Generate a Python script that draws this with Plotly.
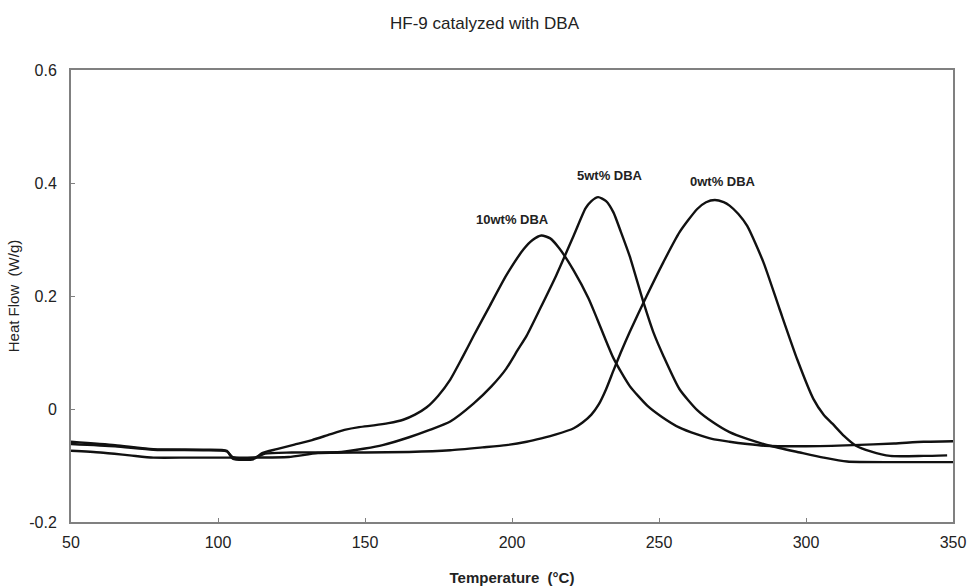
import plotly.graph_objects as go

# 10wt% DBA
t10 = [50, 65, 78, 95, 103, 105, 112, 115, 120, 126, 132, 138, 143, 148, 153, 158, 163, 167, 171, 175, 179,
       183, 187, 192.5, 198, 204, 207, 210, 213, 216, 221, 226, 229, 234.5, 240, 246, 251, 257, 263, 268,
       274, 280, 286, 300, 316, 330, 340, 350]
h10 = [-0.058, -0.064, -0.071, -0.072, -0.074, -0.088, -0.089, -0.078, -0.071, -0.063, -0.055, -0.045, -0.037,
       -0.032, -0.029, -0.025, -0.019, -0.010, 0.003, 0.024, 0.052, 0.090, 0.130, 0.183, 0.236, 0.283, 0.299,
       0.307, 0.302, 0.285, 0.245, 0.196, 0.159, 0.090, 0.041, 0.006, -0.014, -0.033, -0.045, -0.053, -0.058,
       -0.062, -0.065, -0.066, -0.064, -0.061, -0.058, -0.057]

# 5wt% DBA
t5 = [50, 65, 78, 95, 103, 105, 112, 116, 125, 142, 150, 156, 165, 172, 179, 187, 193, 198, 202, 205, 209.5,
      215, 221, 225, 227, 229.3, 232, 234.5, 237, 240, 244.7, 248, 251.5, 257, 263, 268.5, 274, 280, 287.7,
      298, 306, 314, 330, 350]
h5 = [-0.062, -0.066, -0.072, -0.073, -0.075, -0.085, -0.087, -0.079, -0.077, -0.076, -0.070, -0.064, -0.050,
      -0.037, -0.022, 0.010, 0.040, 0.071, 0.105, 0.130, 0.177, 0.236, 0.307, 0.355, 0.368, 0.375, 0.368,
      0.348, 0.314, 0.271, 0.189, 0.137, 0.094, 0.035, -0.002, -0.024, -0.041, -0.053, -0.065, -0.077,
      -0.086, -0.093, -0.094, -0.094]

# 0wt% DBA
t0 = [50, 60, 70, 78, 90, 100, 110, 124, 134, 150, 165, 179, 190, 198, 205, 210, 215, 221, 224, 227, 229.5,
      232, 234.5, 237, 240, 245.8, 251.5, 257, 263, 266, 269, 272, 274, 277, 280, 285.5, 291, 297, 302.5,
      306, 309, 313, 317, 322, 328.6, 340, 348]
h0 = [-0.074, -0.077, -0.082, -0.086, -0.086, -0.086, -0.086, -0.085, -0.078, -0.077, -0.076, -0.073, -0.068,
      -0.064, -0.058, -0.052, -0.045, -0.034, -0.024, -0.010, 0.008, 0.035, 0.068, 0.100, 0.136, 0.200, 0.260,
      0.313, 0.354, 0.366, 0.370, 0.366, 0.360, 0.345, 0.324, 0.260, 0.177, 0.088, 0.018, -0.010, -0.026,
      -0.048, -0.065, -0.075, -0.083, -0.083, -0.082]

labels = ["10wt% DBA", "5wt% DBA", "0wt% DBA"]
label_x = [200, 233.3, 271.6]
label_y = [0.336, 0.414, 0.402]

x_ticks = [50, 100, 150, 200, 250, 300, 350]
y_ticks = [-0.2, 0, 0.2, 0.4, 0.6]
y_tick_text = ["-0.2", "0", "0.2", "0.4", "0.6"]

FONT = "Liberation Sans, Arial, sans-serif"

fig = go.Figure()
for t, h, name in [(t10, h10, labels[0]), (t5, h5, labels[1]), (t0, h0, labels[2])]:
    fig.add_trace(go.Scatter(x=t, y=h, mode="lines", name=name,
                             line=dict(color="#111111", width=2.4, shape="spline", smoothing=0.6),
                             showlegend=False))

for lx, ly, txt in zip(label_x, label_y, labels):
    fig.add_annotation(x=lx, y=ly, text="<b>" + txt + "</b>", showarrow=False,
                       font=dict(family=FONT, size=13, color="#222222"))

fig.update_layout(
    width=969, height=586,
    margin=dict(l=71, r=16, t=70, b=64),
    paper_bgcolor="white", plot_bgcolor="white",
    font=dict(family=FONT, size=16, color="#222222"),
    title=dict(text="HF-9 catalyzed with DBA", x=0.5, xanchor="center", y=0.96, yanchor="middle",
               font=dict(family=FONT, size=17, color="#222222")),
    xaxis=dict(range=[50, 350], tickvals=x_ticks, ticks="inside", ticklen=4, tickcolor="#808080",
               showline=True, linecolor="#808080", linewidth=2, mirror=True, showgrid=False,
               zeroline=False, tickfont=dict(size=16), ticklabelstandoff=5, automargin=False,
               title=dict(text="<b>Temperature\u00a0\u00a0(°C)</b>", font=dict(size=15), standoff=22)),
    yaxis=dict(range=[-0.2, 0.6], tickvals=y_ticks, ticktext=y_tick_text, ticks="inside", ticklen=4,
               tickcolor="#808080", showline=True, linecolor="#808080", linewidth=2, mirror=True,
               showgrid=False, zeroline=False, tickfont=dict(size=16), ticklabelstandoff=9, automargin=False,
               title=dict(text="Heat Flow\u00a0\u00a0(W/g)", font=dict(size=15), standoff=6)),
)

fig.write_html("out.html")
